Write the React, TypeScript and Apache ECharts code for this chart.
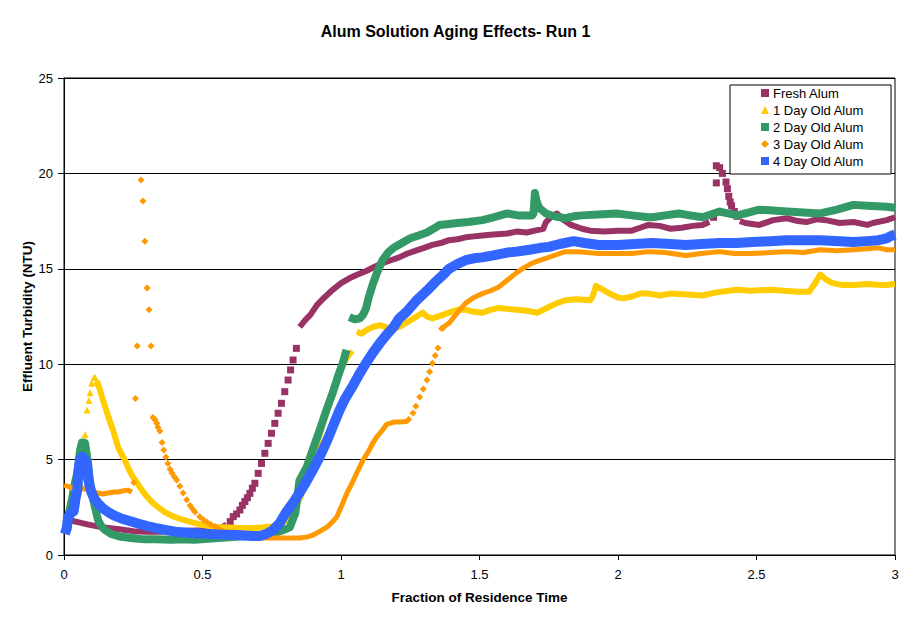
import React, { useEffect, useRef } from "react";
import * as echarts from "echarts";

// ---------- data ----------
const seriesNames = ["Fresh Alum", "1 Day Old Alum", "2 Day Old Alum", "3 Day Old Alum", "4 Day Old Alum"];
const seriesColors = ["#993366", "#FFCC00", "#339966", "#FF9900", "#3366FF"];
const xTicks = [0, 0.5, 1, 1.5, 2, 2.5, 3];
const yTicks = [0, 5, 10, 15, 20, 25];

// Fresh Alum
const freshStart = [[0,1.95],[0.02,1.82],[0.05,1.72],[0.08,1.62],[0.12,1.5],[0.16,1.42],[0.2,1.35],[0.25,1.25],[0.3,1.22],[0.35,1.22],[0.4,1.25],[0.45,1.27],[0.5,1.3],[0.54,1.35],[0.57,1.45],[0.587,1.6]];
const freshRise = [[0.6,1.75],[0.611,2.01],[0.623,2.15],[0.635,2.36],[0.644,2.6],[0.653,2.8],[0.662,3.0],[0.671,3.23],[0.68,3.5],[0.689,3.76],[0.701,4.28],[0.713,4.8],[0.725,5.33],[0.737,5.85],[0.749,6.38],[0.761,6.9],[0.773,7.43],[0.785,7.95],[0.797,8.56],[0.809,9.17],[0.818,9.7],[0.827,10.22],[0.839,10.83]];
const freshUpper = [[0.851,11.95],[0.87,12.3],[0.89,12.6],[0.913,13.1],[0.94,13.5],[0.97,13.9],[1.0,14.25],[1.03,14.5],[1.06,14.7],[1.093,14.9],[1.12,15.1],[1.15,15.3],[1.18,15.45],[1.21,15.6],[1.24,15.8],[1.27,15.95],[1.3,16.1],[1.33,16.25],[1.36,16.35],[1.39,16.5],[1.42,16.55],[1.45,16.65],[1.48,16.7],[1.51,16.75],[1.55,16.8],[1.6,16.85],[1.634,16.95],[1.67,16.9],[1.7,17.0],[1.73,17.1],[1.74,17.45],[1.76,17.75],[1.78,17.9],[1.8,17.6],[1.83,17.3],[1.87,17.1],[1.9,17.0],[1.95,16.95],[2.0,17.0],[2.05,17.0],[2.08,17.15],[2.11,17.3],[2.15,17.25],[2.19,17.1],[2.23,17.15],[2.27,17.25],[2.305,17.3],[2.33,17.45]];
const freshSpike = [[2.345,17.7],[2.355,19.5],[2.355,20.4],[2.367,20.3],[2.377,20.0],[2.39,19.55],[2.395,19.2],[2.4,18.8],[2.405,18.5],[2.41,18.3],[2.42,18.0],[2.43,17.75]];
const freshEnd = [[2.44,17.5],[2.46,17.4],[2.51,17.3],[2.56,17.55],[2.61,17.65],[2.65,17.5],[2.68,17.45],[2.72,17.6],[2.75,17.55],[2.8,17.4],[2.85,17.45],[2.9,17.3],[2.92,17.4],[2.97,17.55],[3.0,17.7]];

// 1 Day Old Alum
const day1Peak = [[0.01,1.6],[0.022,2.5],[0.04,3.3],[0.058,3.8],[0.07,5.2],[0.076,6.3],[0.083,7.6],[0.09,8.1],[0.094,8.5],[0.1,9.0],[0.108,9.3],[0.112,9.3],[0.119,9.1]];
const day1Fall = [[0.119,9.1],[0.13,8.65],[0.141,8.1],[0.15,7.7],[0.159,7.3],[0.168,6.9],[0.177,6.55],[0.186,6.1],[0.195,5.66],[0.207,5.3],[0.22,4.98],[0.232,4.55],[0.245,4.19],[0.263,3.8],[0.281,3.4],[0.3,3.05],[0.317,2.78],[0.34,2.5],[0.364,2.25],[0.39,2.05],[0.41,1.94],[0.44,1.8],[0.47,1.68],[0.5,1.57],[0.545,1.47],[0.58,1.45],[0.628,1.42],[0.66,1.42],[0.69,1.42],[0.72,1.45],[0.75,1.5],[0.78,1.6],[0.81,1.9],[0.84,2.6],[0.87,3.6],[0.9,5.0],[0.923,6.3],[0.95,7.6],[0.98,8.9],[1.0,9.8],[1.02,10.3],[1.04,10.7]];
const day1Upper = [[1.057,11.7],[1.075,11.6],[1.093,11.8],[1.115,11.95],[1.14,12.05],[1.17,11.9],[1.21,11.95],[1.25,12.3],[1.295,12.7],[1.31,12.5],[1.33,12.4],[1.36,12.55],[1.39,12.7],[1.42,12.85],[1.45,12.85],[1.48,12.75],[1.51,12.7],[1.54,12.85],[1.57,12.95],[1.6,12.9],[1.634,12.85],[1.67,12.8],[1.71,12.7],[1.75,13.0],[1.78,13.2],[1.81,13.35],[1.85,13.4],[1.9,13.35],[1.91,13.6],[1.92,14.1],[1.94,13.95],[1.97,13.7],[2.0,13.5],[2.02,13.45],[2.05,13.55],[2.08,13.7],[2.11,13.7],[2.15,13.6],[2.19,13.7],[2.25,13.65],[2.305,13.6],[2.35,13.75],[2.4,13.85],[2.43,13.9],[2.48,13.85],[2.55,13.9],[2.6,13.85],[2.65,13.8],[2.69,13.8],[2.71,14.2],[2.73,14.7],[2.75,14.45],[2.775,14.25],[2.81,14.15],[2.85,14.15],[2.9,14.2],[2.95,14.15],[2.97,14.15],[3.0,14.2]];

// 2 Day Old Alum
const day2Lower = [[0.005,1.3],[0.015,2.0],[0.03,3.0],[0.04,3.8],[0.05,4.45],[0.058,5.5],[0.065,5.9],[0.076,5.87],[0.085,5.0],[0.092,4.1],[0.1,3.25],[0.112,2.5],[0.123,1.83],[0.135,1.5],[0.148,1.31],[0.17,1.1],[0.2,0.97],[0.25,0.88],[0.29,0.82],[0.33,0.82],[0.39,0.8],[0.43,0.82],[0.47,0.8],[0.52,0.85],[0.57,0.9],[0.62,0.95],[0.67,1.0],[0.72,1.05],[0.76,1.15],[0.79,1.3],[0.815,1.45],[0.835,2.2],[0.85,3.9],[0.876,4.6],[0.9,5.6],[0.923,6.55],[0.95,7.7],[0.97,8.5],[0.99,9.4],[1.006,10.05],[1.02,10.75]];
const day2Upper = [[1.03,12.47],[1.05,12.35],[1.068,12.4],[1.08,12.6],[1.09,12.9],[1.1,13.5],[1.115,14.2],[1.13,14.8],[1.15,15.46],[1.17,15.85],[1.19,16.1],[1.22,16.35],[1.25,16.6],[1.28,16.75],[1.31,16.9],[1.34,17.15],[1.356,17.3],[1.39,17.35],[1.42,17.4],[1.46,17.45],[1.51,17.55],[1.55,17.7],[1.6,17.9],[1.64,17.8],[1.69,17.8],[1.695,17.9],[1.70,18.97],[1.705,18.6],[1.715,18.2],[1.74,17.9],[1.77,17.75],[1.81,17.65],[1.84,17.75],[1.87,17.8],[1.93,17.85],[1.995,17.9],[2.05,17.8],[2.11,17.7],[2.125,17.7],[2.17,17.8],[2.22,17.9],[2.26,17.8],[2.305,17.7],[2.367,18.0],[2.43,17.8],[2.47,17.95],[2.51,18.1],[2.56,18.05],[2.61,18.0],[2.67,17.95],[2.73,17.9],[2.79,18.1],[2.85,18.35],[2.9,18.3],[2.97,18.25],[3.0,18.2]];

// 3 Day Old Alum
const day3Start = [[0,3.65],[0.015,3.6],[0.03,3.5],[0.05,3.5],[0.065,3.5],[0.087,3.4],[0.105,3.3],[0.123,3.25],[0.14,3.2],[0.16,3.25],[0.18,3.3],[0.195,3.3],[0.21,3.35],[0.23,3.4],[0.245,3.3]];
const day3Spike = [[0.252,3.8],[0.258,8.2],[0.264,10.95],[0.278,19.65],[0.285,18.55],[0.292,16.45],[0.3,14.0],[0.307,12.85],[0.314,10.95],[0.321,7.2],[0.328,7.1],[0.335,6.9],[0.339,6.7],[0.346,6.5],[0.354,5.9],[0.36,5.5],[0.368,5.14],[0.375,4.8],[0.383,4.5],[0.39,4.3],[0.398,4.1],[0.407,3.93],[0.418,3.6],[0.43,3.25],[0.443,2.9],[0.455,2.6],[0.465,2.4],[0.473,2.25],[0.49,2.0],[0.503,1.85],[0.516,1.73],[0.53,1.6],[0.545,1.5]];
const day3Mid = [[0.545,1.5],[0.56,1.35],[0.588,1.15],[0.61,1.0],[0.635,0.94],[0.68,0.9],[0.73,0.89],[0.8,0.89],[0.85,0.89],[0.88,0.95],[0.9,1.05],[0.925,1.25],[0.95,1.47],[0.97,1.75],[0.985,2.0],[1.006,2.7],[1.02,3.2],[1.04,3.77],[1.06,4.4],[1.08,4.98],[1.1,5.45],[1.115,5.87],[1.13,6.2],[1.15,6.55],[1.165,6.85],[1.19,6.97],[1.21,6.97],[1.237,7.0],[1.25,7.2]];
const day3Rise = [[1.26,7.44],[1.27,7.8],[1.284,8.28],[1.297,8.7],[1.31,9.17],[1.32,9.6],[1.33,10.05],[1.34,10.45],[1.35,10.85]];
const day3Upper = [[1.356,11.95],[1.365,11.85],[1.375,12.0],[1.39,12.15],[1.42,12.7],[1.45,13.2],[1.48,13.5],[1.51,13.7],[1.54,13.85],[1.57,14.05],[1.6,14.4],[1.634,14.8],[1.66,15.05],[1.69,15.3],[1.72,15.45],[1.75,15.6],[1.78,15.75],[1.81,15.9],[1.85,15.9],[1.93,15.8],[2.0,15.8],[2.05,15.8],[2.11,15.9],[2.17,15.85],[2.245,15.7],[2.3,15.8],[2.367,15.9],[2.42,15.8],[2.485,15.8],[2.55,15.85],[2.61,15.9],[2.67,15.85],[2.73,16.0],[2.79,15.95],[2.85,16.0],[2.9,16.05],[2.94,16.1],[2.97,16.0],[3.0,16.0]];

// 4 Day Old Alum
const day4All = [[0.003,1.1],[0.01,1.4],[0.015,2.0],[0.025,2.2],[0.035,2.3],[0.042,3.0],[0.048,3.4],[0.052,4.4],[0.058,5.0],[0.065,5.15],[0.075,5.0],[0.083,4.8],[0.087,4.0],[0.093,3.6],[0.1,3.25],[0.11,2.95],[0.123,2.7],[0.14,2.45],[0.159,2.25],[0.18,2.08],[0.209,1.9],[0.24,1.77],[0.267,1.65],[0.3,1.52],[0.328,1.42],[0.37,1.3],[0.41,1.2],[0.46,1.15],[0.51,1.12],[0.56,1.08],[0.628,1.05],[0.68,1.0],[0.707,1.0],[0.73,1.1],[0.755,1.31],[0.78,1.7],[0.8,2.2],[0.825,2.7],[0.85,3.25],[0.875,3.85],[0.9,4.5],[0.925,5.2],[0.95,6.0],[0.975,6.9],[0.995,7.6],[1.015,8.2],[1.04,8.8],[1.065,9.45],[1.09,10.05],[1.115,10.6],[1.14,11.1],[1.165,11.55],[1.19,11.95],[1.21,12.4],[1.237,12.75],[1.27,13.3],[1.31,13.85],[1.34,14.3],[1.37,14.7],[1.39,15.0],[1.42,15.25],[1.45,15.45],[1.48,15.55],[1.51,15.6],[1.55,15.7],[1.6,15.85],[1.634,15.9],[1.68,16.0],[1.72,16.1],[1.75,16.15],[1.79,16.3],[1.84,16.45],[1.88,16.35],[1.93,16.25],[2.0,16.25],[2.06,16.3],[2.125,16.35],[2.19,16.3],[2.245,16.25],[2.3,16.3],[2.367,16.35],[2.43,16.35],[2.485,16.4],[2.55,16.45],[2.61,16.5],[2.67,16.5],[2.73,16.5],[2.8,16.45],[2.85,16.4],[2.9,16.45],[2.94,16.5],[2.97,16.6],[2.99,16.75],[3.0,16.8]];

const FONT = "'Liberation Sans', Arial, sans-serif";

function lineSeries(nameIdx: number, data: number[][], width: number) {
  return {
    type: "line",
    name: seriesNames[nameIdx],
    data,
    showSymbol: false,
    symbol: "none",
    lineStyle: { color: seriesColors[nameIdx], width, cap: "butt", join: "round" },
    itemStyle: { color: seriesColors[nameIdx] },
    z: 2 + nameIdx,
  };
}
function scatterSeries(nameIdx: number, data: number[][], symbol: string, size: number) {
  return {
    type: "scatter",
    name: seriesNames[nameIdx],
    data,
    symbol,
    symbolSize: size,
    itemStyle: { color: seriesColors[nameIdx], opacity: 1 },
    z: 2 + nameIdx,
  };
}

export default function App() {
  const ref = useRef<HTMLDivElement>(null);
  useEffect(() => {
    if (!ref.current) return;
    const chart = echarts.init(ref.current, null, { renderer: "svg" });
    const icons = ["rect", "triangle", "rect", "diamond", "rect"];
    chart.setOption({
      animation: false,
      backgroundColor: "#ffffff",
      title: {
        text: "Alum Solution Aging Effects- Run 1",
        left: "center",
        top: 18,
        textStyle: { fontFamily: FONT, fontSize: 16, fontWeight: "bold", color: "#000" },
      },
      legend: {
        orient: "vertical",
        left: 730,
        top: 85,
        backgroundColor: "#fff",
        borderColor: "#000",
        borderWidth: 1,
        padding: [1, 27, 6, 31],
        itemGap: 3,
        itemWidth: 8,
        itemHeight: 8,
        data: seriesNames.map((n, i) => ({ name: n, icon: icons[i] })),
        textStyle: { fontFamily: FONT, fontSize: 13, color: "#000", lineHeight: 14, padding: [0, 0, 0, -1] },
        selectedMode: false,
      },
      grid: {
        left: 64,
        right: 16,
        top: 78,
        bottom: 68,
        show: true,
        borderColor: "#000",
        borderWidth: 1,
        backgroundColor: "#fff",
      },
      xAxis: {
        type: "value",
        min: xTicks[0],
        max: xTicks[xTicks.length - 1],
        interval: 0.5,
        name: "Fraction of Residence Time",
        nameLocation: "middle",
        nameGap: 35,
        nameMoveOverlap: false,
        nameTextStyle: { fontFamily: FONT, fontSize: 13.5, fontWeight: "bold", color: "#000" },
        axisLine: { show: true, lineStyle: { color: "#000", width: 1 } },
        axisTick: { show: true, length: 5, lineStyle: { color: "#000" } },
        axisLabel: { fontFamily: FONT, fontSize: 13, color: "#000", margin: 13 },
        splitLine: { show: false },
      },
      yAxis: {
        type: "value",
        min: yTicks[0],
        max: yTicks[yTicks.length - 1],
        interval: 5,
        name: "Effluent Turbidity (NTU)",
        nameLocation: "middle",
        nameGap: 30,
        nameMoveOverlap: false,
        nameTextStyle: { fontFamily: FONT, fontSize: 13.5, fontWeight: "bold", color: "#000" },
        axisLine: { show: true, lineStyle: { color: "#000", width: 1 } },
        axisTick: { show: true, length: 6, lineStyle: { color: "#000" } },
        axisLabel: { fontFamily: FONT, fontSize: 13, color: "#000", margin: 11 },
        splitLine: { show: true, lineStyle: { color: "#000", width: 1 } },
      },
      series: [
        lineSeries(0, freshStart, 6),
        scatterSeries(0, freshRise, "rect", 7),
        lineSeries(0, freshUpper, 6),
        scatterSeries(0, freshSpike, "rect", 7),
        lineSeries(0, freshEnd, 6),
        scatterSeries(1, day1Peak, "triangle", 7),
        lineSeries(1, day1Fall, 6),
        lineSeries(1, day1Upper, 6),
        lineSeries(2, day2Lower, 8),
        lineSeries(2, day2Upper, 8),
        lineSeries(3, day3Start, 5),
        scatterSeries(3, day3Spike, "diamond", 7),
        lineSeries(3, day3Mid, 5),
        scatterSeries(3, day3Rise, "diamond", 7),
        lineSeries(3, day3Upper, 5),
        lineSeries(4, day4All, 10),
      ],
    });
    return () => chart.dispose();
  }, []);
  return <div ref={ref} style={{ position: "fixed", left: 0, top: 0, width: 911, height: 623 }} />;
}
